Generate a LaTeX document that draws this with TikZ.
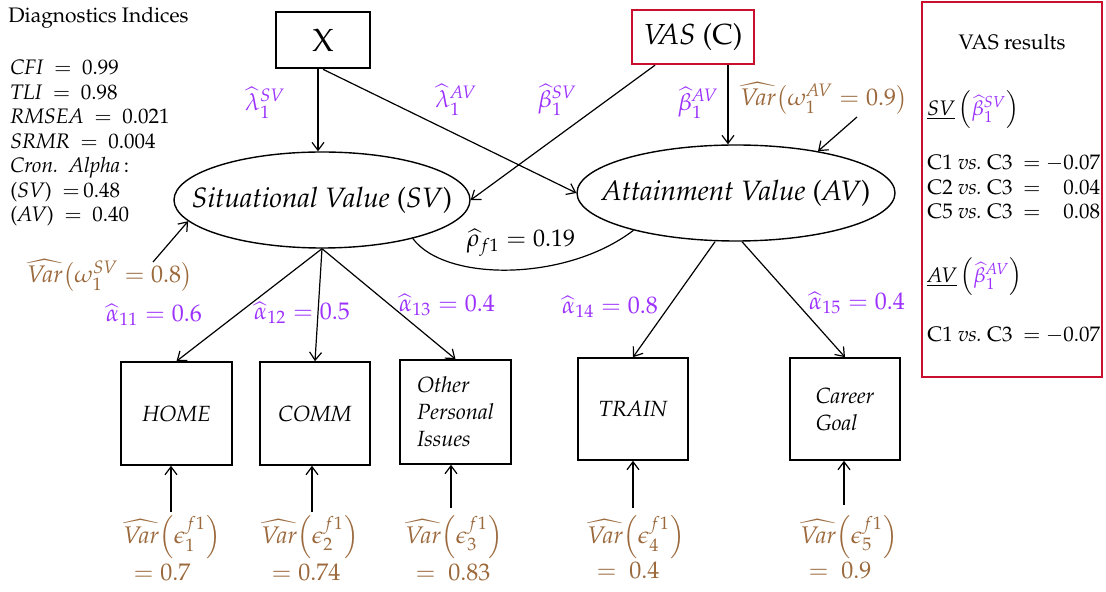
\documentclass[tikz,border=0pt]{standalone}
\usepackage[T1]{fontenc}
\usepackage{mathpazo}
\usetikzlibrary{arrows.meta,shapes.geometric,calc}
\definecolor{purp}{RGB}{155,48,255}
\definecolor{brn}{RGB}{155,105,60}
\definecolor{vasred}{RGB}{200,16,46}
\newcommand{\myvar}{\widehat{\mathit{Var}}}
\begin{document}
\begin{tikzpicture}[x=0.5pt,y=-0.5pt,
  arr/.style={-{Straight Barb[length=4pt,width=6pt]}, line width=0.6pt},
  obs/.style={draw, line width=0.8pt, minimum width=55.5pt, minimum height=51.5pt, inner sep=0pt, font=\fontsize{11}{13.5}\selectfont\itshape},
  lat/.style={draw, ellipse, line width=0.7pt, inner sep=0pt, minimum height=48pt},
  lattext/.style={inner sep=0pt, font=\fontsize{14}{17}\selectfont},
  plab/.style={text=purp, inner sep=0pt, font=\fontsize{12}{14}\selectfont},
  blab/.style={text=brn, inner sep=0pt, font=\fontsize{12}{14}\selectfont},
  txt/.style={inner sep=0pt, font=\fontsize{10.5}{12.25}\selectfont},
  redbox/.style={draw=vasred, line width=1.2pt}
]
\useasboundingbox (0,0) rectangle (1106,592);

% top observed
\node[draw, line width=1.3pt, minimum width=47pt, minimum height=28pt, font=\fontsize{16}{19}\selectfont] (X) at (323,40) {X};
\node[redbox, minimum width=61pt, minimum height=27pt, font=\fontsize{14.5}{17}\selectfont] (VAS) at (693,37) {\textit{VAS} (C)};

% latent
\node[lat, minimum width=148pt] (SV) at (322,200) {};
\node[lattext] (SVt) at (SV) {\textit{Situational Value} (\textit{SV})};
\node[lat, minimum width=159pt] (AV) at (736,193) {};
\node[lattext] (AVt) at (AV) {\textit{Attainment Value} (\textit{AV})};

% indicators
\node[obs] (HOME) at (176.5,413.5) {HOME};
\node[obs, minimum width=55pt] (COMM) at (315,413.5) {COMM};
\node[obs, minimum height=52pt, align=left] (OPI) at (455.5,412) {Other\\Personal\\Issues};
\node[obs, minimum width=55pt, minimum height=51pt] (TRAIN) at (633,409) {TRAIN};
\node[obs, minimum width=55pt, minimum height=51pt, align=left] (CG) at (845,409) {Career\\Goal};

% structural arrows
\draw[arr] ([xshift=-2.5pt]X.south) coordinate (xb) -- (xb |- SV.north);
\draw[arr] (X.south) -- (AV.west);
\draw[arr] ([xshift=-19pt]VAS.south) -- (SV.east);
\draw[arr] ([xshift=17.5pt]VAS.south) coordinate (vb) -- (vb |- AV.north);

\node[plab] (lSV) at (265,103) {$\widehat{\lambda}_1^{\mathit{SV}}$};
\node[plab] (lAV) at (456,100) {$\widehat{\lambda}_1^{\mathit{AV}}$};
\node[plab] (bSV) at (557,100) {$\widehat{\beta}_1^{\mathit{SV}}$};
\node[plab] (bAV) at (698,103) {$\widehat{\beta}_1^{\mathit{AV}}$};

% disturbances
\node[blab] (wAV) at (824,98) {$\myvar\!\left(\omega_1^{\mathit{AV}} = 0.9\right)$};
\coordinate (wAVs) at (857,117);
\draw[arr] (wAVs) -- (AV.27.7);
\node[blab] (wSV) at (110,275) {$\myvar\!\left(\omega_1^{\mathit{SV}} = 0.8\right)$};
\coordinate (wSVs) at (153,262);
\draw[arr] (wSVs) -- (SV.189.7);

% correlation
\draw[line width=0.6pt] (SV.-23.4) .. controls (445,282) and (566,282) .. (AV.200.5);
\node[inner sep=0pt, font=\fontsize{12}{14}\selectfont] (rho) at (521,243) {$\widehat{\rho}_{f1} = 0.19$};

% loadings
\draw[arr] (SV.south) -- (HOME.north);
\draw[arr] (SV.south) -- (COMM.north);
\draw[arr] (SV.south) -- (OPI.north);
\draw[arr] ([xshift=-10.5pt]AV.south) -- (TRAIN.north);
\draw[arr] ([xshift=3pt]AV.south) -- (CG.north);

\node[plab] (a11) at (154,315) {$\widehat{\alpha}_{11} = 0.6$};
\node[plab] (a12) at (302,313) {$\widehat{\alpha}_{12} = 0.5$};
\node[plab] (a13) at (447,305) {$\widehat{\alpha}_{13} = 0.4$};
\node[plab] (a14) at (610,307) {$\widehat{\alpha}_{14} = 0.8$};
\node[plab] (a15) at (857,303) {$\widehat{\alpha}_{15} = 0.4$};

% errors
\coordinate (e1) at (171,512);
\coordinate (e2) at (312,512);
\coordinate (e3) at (451,508);
\coordinate (e4) at (633,508);
\coordinate (e5) at (844,505);
\draw[arr] (e1) -- (e1 |- HOME.south);
\draw[arr] (e2) -- (e2 |- COMM.south);
\draw[arr] (e3) -- (e3 |- OPI.south);
\draw[arr] (e4) -- (e4 |- TRAIN.south);
\draw[arr] (e5) -- (e5 |- CG.south);

\node[blab] (v1) at (172,537) {$\myvar\!\left(\epsilon_1^{f1}\right)$};
\node[blab] (v2) at (310,537) {$\myvar\!\left(\epsilon_2^{f1}\right)$};
\node[blab] (v3) at (454,537) {$\myvar\!\left(\epsilon_3^{f1}\right)$};
\node[blab] (v4) at (636,537) {$\myvar\!\left(\epsilon_4^{f1}\right)$};
\node[blab] (v5) at (849,537) {$\myvar\!\left(\epsilon_5^{f1}\right)$};
\node[blab] (n1) at (162,572) {$= 0.7$};
\node[blab] (n2) at (306,572) {$= 0.74$};
\node[blab] (n3) at (453,572) {$=\ 0.83$};
\node[blab] (n4) at (628,570) {$=\ 0.4$};
\node[blab] (n5) at (840,570) {$=\ 0.9$};

% diagnostics
\node[txt, anchor=west] (diagT) at (8,18) {Diagnostics Indices};
\node[txt, anchor=north west, align=left] (diag) at (10,60) {%
\textit{CFI}\ \ $=$\ \ 0.99\\
\textit{TLI}\ \ $=$\ \ 0.98\\
\textit{RMSEA}\ \ $=$\ \ 0.021\\
\textit{SRMR}\ \ $=$\ \ 0.004\\
\textit{Cron.\ \ Alpha}\,:\\
(\textit{SV})\ \ $=$\,0.48\\
(\textit{AV})\ \ $=$\ \ 0.40};

% VAS results
\node[redbox, minimum width=90pt, minimum height=187.5pt, inner sep=0pt] (res) at (1012,189.5) {};
\node[txt] (resT) at (1012,42) {VAS results};
\node[txt, anchor=west] (resSV) at (927,110) {\underline{\textit{SV}}\,$\left(\textcolor{purp}{\widehat{\beta}_1^{\mathit{SV}}}\right)$};
\node[txt, anchor=north west] (resC1) at (927,152) {\begin{tabular}{@{}l@{\ \ $=$\ }r@{}}
C1 \textit{vs.}\ C3 & $-$0.07\\
C2 \textit{vs.}\ C3 & 0.04\\
C5 \textit{vs.}\ C3 & 0.08
\end{tabular}};
\node[txt, anchor=west] (resAV) at (927,277) {\underline{\textit{AV}}\,$\left(\textcolor{purp}{\widehat{\beta}_1^{\mathit{AV}}}\right)$};
\node[txt, anchor=north west] (resC2) at (927,324) {\begin{tabular}{@{}l@{\ \ $=$\ }r@{}}
C1 \textit{vs.}\ C3 & $-$0.07
\end{tabular}};
\end{tikzpicture}
\end{document}
